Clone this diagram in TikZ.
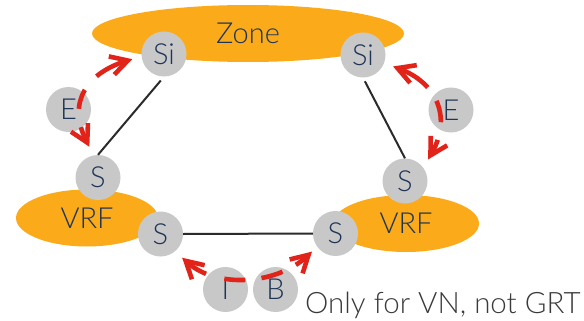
\documentclass[tikz,border=0pt]{standalone}
\usepackage{fontspec}
\setmainfont{Lato}[UprightFont=* Light]
\usetikzlibrary{arrows.meta,shapes.geometric}
\definecolor{zoneorange}{HTML}{FBAB19}
\definecolor{nodegray}{HTML}{C8C8C8}
\definecolor{labelnavy}{HTML}{1F3557}
\definecolor{flowred}{HTML}{E2231A}
\definecolor{linkgray}{HTML}{2B2B2B}
\definecolor{notegray}{HTML}{3A3A3A}
\begin{document}
\begin{tikzpicture}[x=1pt,y=1pt,
  lbl/.style={text=labelnavy, font=\fontsize{29}{31}\selectfont},
  dev/.style={lbl, circle, fill=nodegray, minimum size=45pt, inner sep=0pt},
  area/.style={lbl, ellipse, fill=zoneorange, inner sep=0pt, minimum height=57pt},
  link/.style={draw=linkgray, line width=2pt},
  barb/.tip={Straight Barb[length=17pt,width=19pt]},
  flow/.style={draw=flowred, line width=4.6pt, barb-barb,
    shorten <=9.5pt, shorten >=9.5pt},
]
\fill[white] (0,0) rectangle (584,-321);
\useasboundingbox (0,0) rectangle (584,-321);

% zone and VRF areas
\node[area, minimum width=312pt] (zone) at (248,-33.5) {Zone};
\node[area, minimum width=142pt] (vrfL) at (87,-218) {VRF};
\node[area, minimum width=146pt] (vrfR) at (406,-223.5) {VRF};

% devices
\node[dev] (siL) at (164,-54) {Si};
\node[dev] (siR) at (363,-55) {Si};
\node[dev] (eL) at (68.5,-109.5) {E};
\node[dev] (eR) at (451,-110) {E};
\node[dev] (sLt) at (98,-177.5) {S};
\node[dev] (sRt) at (405,-181) {S};
\node[dev] (sLb) at (160.5,-234) {S};
\node[dev] (sRb) at (335.5,-233.5) {S};
\node[dev] (iN) at (225.5,-289.5) {I};
\node[dev] (bN) at (275.5,-289.5) {B};

% physical links
\draw[link, shorten <=5pt] (siL.south) -- (sLt.north);
\draw[link, shorten <=4pt] (siR.south) -- (sRt.north);
\draw[link] (sLb.east) -- (sRb.west);

% traffic flows, dashed arcs with a barb at each end
\draw[flow, dash pattern=on 33pt off 18pt on 20pt off 18.6pt on 80pt]
  (siL.186) to[out=197, in=117, out looseness=1.3, in looseness=1.4] (sLt.101);
\draw[flow, dash pattern=on 34pt off 16pt on 22pt off 18pt on 80pt]
  (siR.-21) to[out=-20.5, in=60, out looseness=1.28, in looseness=1.33] (sRt.36);
\draw[flow, shorten >=7pt,
  dash pattern=on 22pt off 19pt on 21pt off 16.3pt on 22pt off 15pt on 80pt]
  (sLb.-50) to[out=-42, in=223, looseness=1] (sRb.216);

\node[anchor=base west, text=notegray, font=\fontsize{29.5}{31}\selectfont, inner sep=0pt]
  (note) at (305,-313) {Only for VN, not GRT};
\end{tikzpicture}
\end{document}
